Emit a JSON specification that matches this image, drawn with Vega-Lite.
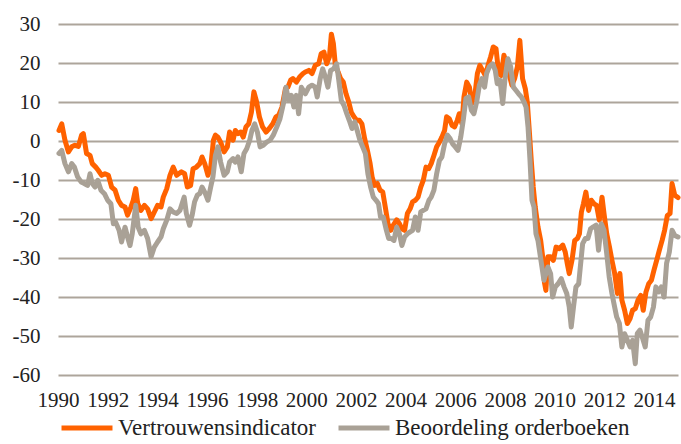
{
  "$schema": "https://vega.github.io/schema/vega-lite/v6.json",
  "width": 620,
  "height": 351,
  "autosize": "none",
  "padding": {"left": 58, "top": 24, "right": 3, "bottom": 69},
  "config": {"view": {"stroke": null}, "font": "Liberation Serif"},
  "datasets": {
    "vertrouwen": [
      {"jaar":1990.04,"v":2.7},{"jaar":1990.15,"v":4.4},{"jaar":1990.28,"v":0.2},{"jaar":1990.42,"v":-2.8},{"jaar":1990.55,"v":-1.5},{"jaar":1990.68,"v":-1.1},{"jaar":1990.82,"v":-1.4},{"jaar":1990.95,"v":1.5},{"jaar":1991.02,"v":1.9},{"jaar":1991.15,"v":-3.2},{"jaar":1991.29,"v":-3.7},{"jaar":1991.38,"v":-5.8},{"jaar":1991.52,"v":-6.7},{"jaar":1991.62,"v":-7.5},{"jaar":1991.76,"v":-8.8},{"jaar":1991.89,"v":-8.4},{"jaar":1992.03,"v":-8.8},{"jaar":1992.16,"v":-11.8},{"jaar":1992.3,"v":-12.6},{"jaar":1992.43,"v":-15.2},{"jaar":1992.56,"v":-16.5},{"jaar":1992.7,"v":-16.9},{"jaar":1992.8,"v":-19},{"jaar":1992.94,"v":-16.9},{"jaar":1993.03,"v":-15.2},{"jaar":1993.13,"v":-12.2},{"jaar":1993.21,"v":-16},{"jaar":1993.34,"v":-17.8},{"jaar":1993.48,"v":-16.5},{"jaar":1993.61,"v":-17.4},{"jaar":1993.75,"v":-19.9},{"jaar":1993.88,"v":-18.2},{"jaar":1994.01,"v":-16.5},{"jaar":1994.15,"v":-16.9},{"jaar":1994.24,"v":-14.4},{"jaar":1994.38,"v":-12.2},{"jaar":1994.51,"v":-8.8},{"jaar":1994.64,"v":-6.7},{"jaar":1994.78,"v":-8.8},{"jaar":1994.97,"v":-7.9},
      {"jaar":1995.1,"v":-8.4},{"jaar":1995.21,"v":-11.8},{"jaar":1995.34,"v":-11.4},{"jaar":1995.44,"v":-7.1},{"jaar":1995.57,"v":-6.7},{"jaar":1995.71,"v":-5.8},{"jaar":1995.8,"v":-4.1},{"jaar":1995.91,"v":-5.8},{"jaar":1996.04,"v":-8.8},{"jaar":1996.15,"v":-6.7},{"jaar":1996.26,"v":0.2},{"jaar":1996.34,"v":1.5},{"jaar":1996.44,"v":1.0},{"jaar":1996.55,"v":-0.3},{"jaar":1996.69,"v":-2.8},{"jaar":1996.82,"v":-1.5},{"jaar":1996.91,"v":2.3},{"jaar":1997.05,"v":0.2},{"jaar":1997.14,"v":2.7},{"jaar":1997.25,"v":1.9},{"jaar":1997.36,"v":2.3},{"jaar":1997.46,"v":1.0},{"jaar":1997.57,"v":3.6},{"jaar":1997.68,"v":4.4},{"jaar":1997.79,"v":7.4},{"jaar":1997.89,"v":12.6},{"jaar":1998.0,"v":10},{"jaar":1998.11,"v":6.2},{"jaar":1998.24,"v":3.6},{"jaar":1998.38,"v":2.3},{"jaar":1998.51,"v":3.2},{"jaar":1998.65,"v":4.4},{"jaar":1998.78,"v":6.2},{"jaar":1998.89,"v":6.6},{"jaar":1999.02,"v":8.7},{"jaar":1999.16,"v":13.4},{"jaar":1999.26,"v":13.8},{"jaar":1999.37,"v":15.6},{"jaar":1999.46,"v":16},{"jaar":1999.6,"v":15.1},{"jaar":1999.73,"v":16.4},{"jaar":1999.87,"v":17.3},
      {"jaar":1999.96,"v":17.7},{"jaar":2000.1,"v":18.1},{"jaar":2000.23,"v":17.3},{"jaar":2000.36,"v":19.4},{"jaar":2000.5,"v":19.8},{"jaar":2000.6,"v":22.4},{"jaar":2000.71,"v":22.8},{"jaar":2000.82,"v":19.8},{"jaar":2000.93,"v":21.5},{"jaar":2001.01,"v":27.4},{"jaar":2001.09,"v":25},{"jaar":2001.17,"v":19.4},{"jaar":2001.28,"v":17.7},{"jaar":2001.38,"v":16},{"jaar":2001.49,"v":15.1},{"jaar":2001.6,"v":12.1},{"jaar":2001.71,"v":10},{"jaar":2001.81,"v":7.4},{"jaar":2001.92,"v":6.2},{"jaar":2002.03,"v":5.3},{"jaar":2002.14,"v":5.3},{"jaar":2002.24,"v":4.4},{"jaar":2002.35,"v":0.6},{"jaar":2002.46,"v":-2.4},{"jaar":2002.57,"v":-5.8},{"jaar":2002.65,"v":-9.2},{"jaar":2002.75,"v":-11.4},{"jaar":2002.86,"v":-10.9},{"jaar":2002.97,"v":-12.6},{"jaar":2003.08,"v":-13.1},{"jaar":2003.18,"v":-16.9},{"jaar":2003.29,"v":-21.2},{"jaar":2003.4,"v":-22.9},{"jaar":2003.5,"v":-21.6},{"jaar":2003.64,"v":-20.2},{"jaar":2003.75,"v":-21.2},{"jaar":2003.85,"v":-22.5},{"jaar":2003.96,"v":-22.9},{"jaar":2004.07,"v":-18.6},{"jaar":2004.18,"v":-17.4},{"jaar":2004.28,"v":-15.6},{"jaar":2004.39,"v":-15.2},{"jaar":2004.5,"v":-14.4},{"jaar":2004.61,"v":-11.8},{"jaar":2004.71,"v":-10.1},{"jaar":2004.82,"v":-6.7},
      {"jaar":2004.93,"v":-7.1},{"jaar":2005.03,"v":-5.8},{"jaar":2005.14,"v":-3.7},{"jaar":2005.25,"v":-1.5},{"jaar":2005.36,"v":-0.3},{"jaar":2005.46,"v":1.0},{"jaar":2005.57,"v":2.7},{"jaar":2005.65,"v":6.2},{"jaar":2005.76,"v":5.7},{"jaar":2005.87,"v":4.0},{"jaar":2005.97,"v":3.6},{"jaar":2006.08,"v":5.3},{"jaar":2006.16,"v":7.0},{"jaar":2006.27,"v":4.4},{"jaar":2006.35,"v":11.3},{"jaar":2006.46,"v":15.1},{"jaar":2006.57,"v":13.8},{"jaar":2006.67,"v":9.6},{"jaar":2006.78,"v":11.3},{"jaar":2006.89,"v":17.3},{"jaar":2006.99,"v":19.4},{"jaar":2007.1,"v":18.1},{"jaar":2007.21,"v":16.8},{"jaar":2007.32,"v":19.4},{"jaar":2007.42,"v":21.5},{"jaar":2007.53,"v":24.1},{"jaar":2007.64,"v":23.7},{"jaar":2007.75,"v":17.3},{"jaar":2007.85,"v":16.8},{"jaar":2007.96,"v":22},{"jaar":2008.07,"v":19.8},{"jaar":2008.18,"v":16.8},{"jaar":2008.28,"v":14.3},{"jaar":2008.39,"v":16},{"jaar":2008.5,"v":19},{"jaar":2008.6,"v":25.8},{"jaar":2008.71,"v":16},{"jaar":2008.82,"v":13.4},{"jaar":2008.9,"v":10},{"jaar":2008.98,"v":2.7},{"jaar":2009.06,"v":-5},{"jaar":2009.14,"v":-11.8},{"jaar":2009.22,"v":-16.9},{"jaar":2009.33,"v":-22},{"jaar":2009.44,"v":-25.5},{"jaar":2009.52,"v":-29.7},{"jaar":2009.59,"v":-36.2},{"jaar":2009.65,"v":-38.3},{"jaar":2009.73,"v":-29.7},{"jaar":2009.84,"v":-29.7},
      {"jaar":2009.95,"v":-30.6},{"jaar":2010.06,"v":-27.2},{"jaar":2010.19,"v":-27.6},{"jaar":2010.33,"v":-26.7},{"jaar":2010.43,"v":-28.5},{"jaar":2010.51,"v":-31.4},{"jaar":2010.59,"v":-34},{"jaar":2010.7,"v":-30.6},{"jaar":2010.81,"v":-25.5},{"jaar":2010.92,"v":-25},{"jaar":2011.0,"v":-23.8},{"jaar":2011.08,"v":-18.2},{"jaar":2011.16,"v":-16.1},{"jaar":2011.26,"v":-13.1},{"jaar":2011.37,"v":-17.8},{"jaar":2011.48,"v":-15.2},{"jaar":2011.59,"v":-16.1},{"jaar":2011.69,"v":-16.5},{"jaar":2011.8,"v":-20.3},{"jaar":2011.91,"v":-14.4},{"jaar":2011.99,"v":-18.6},{"jaar":2012.1,"v":-23.8},{"jaar":2012.21,"v":-27.2},{"jaar":2012.31,"v":-30.6},{"jaar":2012.42,"v":-34},{"jaar":2012.53,"v":-39.1},{"jaar":2012.63,"v":-34},{"jaar":2012.71,"v":-40.8},{"jaar":2012.82,"v":-43.4},{"jaar":2012.93,"v":-46.8},{"jaar":2013.04,"v":-45.5},{"jaar":2013.14,"v":-43.4},{"jaar":2013.25,"v":-43},{"jaar":2013.36,"v":-40.8},{"jaar":2013.47,"v":-39.6},{"jaar":2013.57,"v":-43.4},{"jaar":2013.68,"v":-38.7},{"jaar":2013.79,"v":-36.6},{"jaar":2013.9,"v":-35.7},{"jaar":2014.0,"v":-33.2},{"jaar":2014.11,"v":-30.6},{"jaar":2014.22,"v":-28},{"jaar":2014.33,"v":-25.5},{"jaar":2014.43,"v":-22.9},{"jaar":2014.54,"v":-19.1},{"jaar":2014.65,"v":-18.6},{"jaar":2014.73,"v":-10.9},{"jaar":2014.84,"v":-13.9},{"jaar":2014.97,"v":-14.5}
    ],
    "orderboeken": [
      {"jaar":1990.04,"v":-3.2},{"jaar":1990.15,"v":-2.4},{"jaar":1990.28,"v":-5.8},{"jaar":1990.42,"v":-7.9},{"jaar":1990.55,"v":-5.8},{"jaar":1990.66,"v":-6.7},{"jaar":1990.79,"v":-9.2},{"jaar":1990.93,"v":-10.5},{"jaar":1991.06,"v":-10.9},{"jaar":1991.19,"v":-11.4},{"jaar":1991.29,"v":-8.4},{"jaar":1991.38,"v":-10.9},{"jaar":1991.49,"v":-11.8},{"jaar":1991.6,"v":-10.1},{"jaar":1991.73,"v":-12.6},{"jaar":1991.87,"v":-13.5},{"jaar":1992.0,"v":-15.2},{"jaar":1992.13,"v":-16.1},{"jaar":1992.23,"v":-21.2},{"jaar":1992.32,"v":-20.8},{"jaar":1992.46,"v":-22.9},{"jaar":1992.56,"v":-25.9},{"jaar":1992.7,"v":-22.1},{"jaar":1992.8,"v":-24.6},{"jaar":1992.9,"v":-26.8},{"jaar":1992.99,"v":-23.8},{"jaar":1993.13,"v":-16.5},{"jaar":1993.23,"v":-22.1},{"jaar":1993.34,"v":-23.8},{"jaar":1993.48,"v":-22.9},{"jaar":1993.61,"v":-25},{"jaar":1993.75,"v":-29.7},{"jaar":1993.88,"v":-27.2},{"jaar":1994.01,"v":-25.9},{"jaar":1994.15,"v":-24.6},{"jaar":1994.24,"v":-22.5},{"jaar":1994.38,"v":-20.3},{"jaar":1994.51,"v":-17.4},{"jaar":1994.64,"v":-18.2},{"jaar":1994.78,"v":-18.6},{"jaar":1994.91,"v":-17.8},
      {"jaar":1995.08,"v":-14.4},{"jaar":1995.17,"v":-18.6},{"jaar":1995.3,"v":-21.6},{"jaar":1995.4,"v":-19.1},{"jaar":1995.5,"v":-15.6},{"jaar":1995.61,"v":-13.9},{"jaar":1995.71,"v":-13.5},{"jaar":1995.8,"v":-11.8},{"jaar":1995.91,"v":-13.1},{"jaar":1996.04,"v":-15.2},{"jaar":1996.15,"v":-11.8},{"jaar":1996.24,"v":-9.2},{"jaar":1996.34,"v":-3.7},{"jaar":1996.44,"v":-1.5},{"jaar":1996.55,"v":-5.4},{"jaar":1996.69,"v":-8.8},{"jaar":1996.82,"v":-7.9},{"jaar":1996.91,"v":-5.4},{"jaar":1997.05,"v":-4.5},{"jaar":1997.14,"v":-5.4},{"jaar":1997.25,"v":-4.1},{"jaar":1997.38,"v":-7.9},{"jaar":1997.49,"v":-3.2},{"jaar":1997.6,"v":-2.0},{"jaar":1997.72,"v":0.2},{"jaar":1997.81,"v":2.7},{"jaar":1997.92,"v":4.4},{"jaar":1998.03,"v":2.3},{"jaar":1998.14,"v":-1.5},{"jaar":1998.27,"v":-1.1},{"jaar":1998.4,"v":-0.3},{"jaar":1998.54,"v":0.2},{"jaar":1998.67,"v":1.5},{"jaar":1998.81,"v":3.6},{"jaar":1998.94,"v":5.7},{"jaar":1999.08,"v":9.6},{"jaar":1999.18,"v":13.8},{"jaar":1999.29,"v":10.4},{"jaar":1999.4,"v":11.7},{"jaar":1999.5,"v":8.7},{"jaar":1999.6,"v":11.7},{"jaar":1999.69,"v":7.0},{"jaar":1999.8,"v":13.8},
      {"jaar":1999.96,"v":12.1},{"jaar":2000.1,"v":13.8},{"jaar":2000.23,"v":14.3},{"jaar":2000.36,"v":13.8},{"jaar":2000.44,"v":11.3},{"jaar":2000.56,"v":16},{"jaar":2000.66,"v":18.5},{"jaar":2000.77,"v":16.4},{"jaar":2000.87,"v":13.8},{"jaar":2000.98,"v":18.1},{"jaar":2001.1,"v":18.5},{"jaar":2001.22,"v":19.8},{"jaar":2001.3,"v":16},{"jaar":2001.41,"v":10.4},{"jaar":2001.52,"v":9.1},{"jaar":2001.63,"v":7.0},{"jaar":2001.73,"v":5.3},{"jaar":2001.84,"v":3.2},{"jaar":2001.95,"v":4.9},{"jaar":2002.05,"v":2.7},{"jaar":2002.16,"v":0.2},{"jaar":2002.27,"v":-1.5},{"jaar":2002.38,"v":-3.2},{"jaar":2002.48,"v":-8.4},{"jaar":2002.59,"v":-11.8},{"jaar":2002.7,"v":-14.4},{"jaar":2002.81,"v":-15.2},{"jaar":2002.91,"v":-16.1},{"jaar":2002.99,"v":-19.5},{"jaar":2003.1,"v":-19.5},{"jaar":2003.21,"v":-22.5},{"jaar":2003.32,"v":-25},{"jaar":2003.42,"v":-25},{"jaar":2003.53,"v":-25.5},{"jaar":2003.64,"v":-22.1},{"jaar":2003.75,"v":-23.8},{"jaar":2003.85,"v":-26.8},{"jaar":2003.96,"v":-24.6},{"jaar":2004.07,"v":-23.8},{"jaar":2004.18,"v":-23.3},{"jaar":2004.28,"v":-22.9},{"jaar":2004.39,"v":-19.5},{"jaar":2004.5,"v":-22.9},{"jaar":2004.61,"v":-18.2},{"jaar":2004.71,"v":-17.8},{"jaar":2004.82,"v":-17.4},{"jaar":2004.94,"v":-15.2},
      {"jaar":2005.03,"v":-14.4},{"jaar":2005.14,"v":-12.6},{"jaar":2005.25,"v":-8.4},{"jaar":2005.36,"v":-5},{"jaar":2005.46,"v":-4.1},{"jaar":2005.57,"v":-0.7},{"jaar":2005.68,"v":1.5},{"jaar":2005.79,"v":0.6},{"jaar":2005.89,"v":-0.7},{"jaar":2006.0,"v":-1.5},{"jaar":2006.11,"v":-2.4},{"jaar":2006.22,"v":1.0},{"jaar":2006.32,"v":5.3},{"jaar":2006.43,"v":10.9},{"jaar":2006.54,"v":11.3},{"jaar":2006.65,"v":7.9},{"jaar":2006.75,"v":7.0},{"jaar":2006.86,"v":10},{"jaar":2006.97,"v":14.3},{"jaar":2007.07,"v":16},{"jaar":2007.18,"v":13.8},{"jaar":2007.26,"v":17.3},{"jaar":2007.37,"v":19},{"jaar":2007.5,"v":19.8},{"jaar":2007.61,"v":18.1},{"jaar":2007.69,"v":14.7},{"jaar":2007.8,"v":15.6},{"jaar":2007.91,"v":9.6},{"jaar":2008.01,"v":16.4},{"jaar":2008.12,"v":21.1},{"jaar":2008.23,"v":19},{"jaar":2008.34,"v":13.8},{"jaar":2008.44,"v":13},{"jaar":2008.55,"v":12.1},{"jaar":2008.66,"v":11.3},{"jaar":2008.77,"v":10},{"jaar":2008.85,"v":8.7},{"jaar":2008.93,"v":3.6},{"jaar":2009.01,"v":-5},{"jaar":2009.09,"v":-15.2},{"jaar":2009.17,"v":-16.9},{"jaar":2009.25,"v":-23.8},{"jaar":2009.33,"v":-25.5},{"jaar":2009.41,"v":-28.9},{"jaar":2009.49,"v":-32.3},{"jaar":2009.57,"v":-35.7},{"jaar":2009.65,"v":-34},{"jaar":2009.73,"v":-32.3},{"jaar":2009.84,"v":-34},
      {"jaar":2009.92,"v":-40},{"jaar":2010.03,"v":-37.4},{"jaar":2010.14,"v":-36.6},{"jaar":2010.27,"v":-35.3},{"jaar":2010.38,"v":-37.4},{"jaar":2010.49,"v":-39.1},{"jaar":2010.59,"v":-42.6},{"jaar":2010.67,"v":-47.7},{"jaar":2010.76,"v":-42.6},{"jaar":2010.86,"v":-37.4},{"jaar":2010.97,"v":-36.6},{"jaar":2011.05,"v":-31.4},{"jaar":2011.13,"v":-26.3},{"jaar":2011.24,"v":-25},{"jaar":2011.34,"v":-25},{"jaar":2011.45,"v":-22.5},{"jaar":2011.56,"v":-22},{"jaar":2011.67,"v":-21.6},{"jaar":2011.77,"v":-28},{"jaar":2011.88,"v":-21.2},{"jaar":2011.99,"v":-22.9},{"jaar":2012.1,"v":-28.9},{"jaar":2012.2,"v":-34.9},{"jaar":2012.31,"v":-39.1},{"jaar":2012.42,"v":-42.6},{"jaar":2012.5,"v":-45.1},{"jaar":2012.61,"v":-46.8},{"jaar":2012.71,"v":-52.8},{"jaar":2012.82,"v":-49.4},{"jaar":2012.93,"v":-51.1},{"jaar":2013.04,"v":-52.8},{"jaar":2013.14,"v":-51.1},{"jaar":2013.25,"v":-57.1},{"jaar":2013.33,"v":-49.4},{"jaar":2013.44,"v":-48.5},{"jaar":2013.55,"v":-50.7},{"jaar":2013.65,"v":-52.8},{"jaar":2013.76,"v":-46},{"jaar":2013.87,"v":-45.1},{"jaar":2013.98,"v":-42.6},{"jaar":2014.08,"v":-37.4},{"jaar":2014.19,"v":-38.7},{"jaar":2014.3,"v":-37.4},{"jaar":2014.41,"v":-40},{"jaar":2014.51,"v":-31.4},{"jaar":2014.62,"v":-28.5},{"jaar":2014.73,"v":-22.9},{"jaar":2014.84,"v":-24.2},{"jaar":2014.97,"v":-24.6}
    ]
  },
  "encoding": {
    "x": {
      "field": "jaar", "type": "quantitative",
      "scale": {"domain": [1990, 2014.97], "nice": false, "zero": false},
      "axis": {"values": [1990,1992,1994,1996,1998,2000,2002,2004,2006,2008,2010,2012,2014], "format": "d", "grid": false, "domain": false, "ticks": false, "labelFontSize": 21, "labelColor": "#222222", "labelPadding": 14, "labelFlush": false, "labelOverlap": false, "title": null}
    },
    "y": {
      "field": "v", "type": "quantitative",
      "scale": {"domain": [-60, 30], "nice": false, "zero": false},
      "axis": {"values": [-60,-50,-40,-30,-20,-10,0,10,20,30], "labelExpr": "datum.value < 0 ? '-' + abs(datum.value) : '' + datum.value", "grid": true, "gridColor": "#ADA59B", "gridWidth": 2, "domain": false, "ticks": false, "labelFontSize": 21, "labelColor": "#222222", "labelPadding": 18, "title": null}
    }
  },
  "layer": [
    {
      "data": {"name": "vertrouwen"},
      "mark": {"type": "line", "strokeWidth": 5, "strokeJoin": "round", "strokeCap": "round"},
      "encoding": {
        "color": {
          "datum": "Vertrouwensindicator",
          "scale": {"domain": ["Vertrouwensindicator", "Beoordeling orderboeken"], "range": ["#FF6200", "#A9A196"]},
          "legend": {"orient": "none", "legendX": 1, "legendY": 376, "direction": "horizontal", "title": null, "symbolType": "stroke", "symbolStrokeWidth": 5, "symbolSize": 2600, "labelFontSize": 23, "labelColor": "#222222", "labelOffset": 3, "columnPadding": 12, "labelLimit": 400}
        }
      }
    },
    {
      "data": {"name": "orderboeken"},
      "mark": {"type": "line", "strokeWidth": 5, "strokeJoin": "round", "strokeCap": "round"},
      "encoding": {"color": {"datum": "Beoordeling orderboeken"}}
    }
  ]
}
